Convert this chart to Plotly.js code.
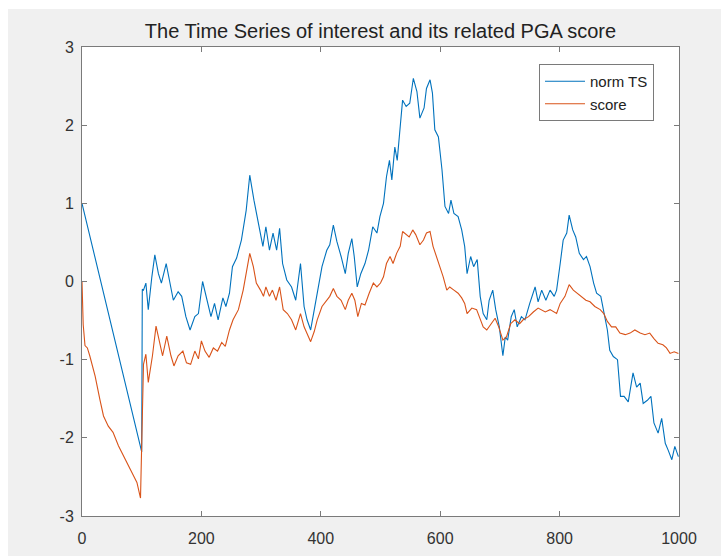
<!DOCTYPE html>
<html>
<head>
<meta charset="utf-8">
<script src="https://cdn.plot.ly/plotly-3.0.1.min.js"></script>
<style>
  html, body { margin: 0; padding: 0; background: #ffffff; }
  #chart { position: absolute; left: 8px; top: 9px; width: 713px; height: 547px; }
</style>
</head>
<body>
<div id="chart"></div>
<script>
// norm TS (time index, value)
const tsX = [0,100,101,103,107,111,117,122,128,133,141,147,153,161,167,174,181,189,195,202,209,216,222,228,236,241,247,252,259,267,275,281,288,295,303,308,314,320,326,331,336,343,351,358,366,372,377,383,389,394,402,410,415,421,427,434,441,446,452,456,461,467,474,480,487,494,499,505,510,515,519,524,528,533,537,543,549,555,561,566,573,577,583,587,591,597,603,608,614,618,623,630,636,641,645,651,656,662,667,672,678,682,688,693,699,705,709,713,719,724,729,736,742,750,759,764,770,777,784,791,795,801,806,812,816,822,827,833,840,845,851,857,862,869,874,880,884,890,897,902,908,915,923,929,935,940,947,953,958,965,971,977,982,988,993,999];
const tsY = [1.0,-2.18,-0.1,-0.11,-0.02,-0.36,0.06,0.34,0.10,-0.02,0.23,-0.02,-0.24,-0.13,-0.19,-0.45,-0.62,-0.45,-0.41,0.0,-0.24,-0.45,-0.28,-0.49,-0.21,-0.32,-0.15,0.19,0.30,0.53,0.91,1.36,1.04,0.74,0.45,0.70,0.40,0.62,0.40,0.68,0.23,0.02,-0.07,-0.24,0.23,-0.32,-0.49,-0.62,-0.36,-0.11,0.19,0.40,0.47,0.72,0.51,0.32,0.10,0.36,0.55,0.32,-0.07,0.10,0.23,0.40,0.70,0.62,0.83,1.0,1.34,1.55,1.30,1.72,1.55,1.98,2.32,2.24,2.28,2.60,2.43,2.09,2.22,2.47,2.58,2.41,1.94,1.85,1.43,0.96,0.87,1.04,0.87,0.83,0.66,0.45,0.10,0.32,0.19,0.28,-0.19,-0.41,-0.49,-0.24,-0.11,-0.36,-0.58,-0.95,-0.71,-0.75,-0.45,-0.36,-0.58,-0.45,-0.49,-0.28,-0.07,-0.26,-0.11,-0.24,-0.11,-0.19,-0.11,0.23,0.53,0.62,0.85,0.66,0.57,0.36,0.28,0.32,0.19,-0.02,-0.15,-0.19,-0.41,-0.62,-0.88,-0.96,-1.0,-1.47,-1.47,-1.54,-1.17,-1.35,-1.30,-1.56,-1.52,-1.47,-1.81,-1.94,-1.75,-2.07,-2.16,-2.28,-2.11,-2.24];

// PGA score (time index, value)
const scoreX = [0,2,5,9,13,22,30,36,44,52,61,72,83,92,98,103,107,111,118,124,130,135,142,149,154,161,169,175,182,189,195,200,206,213,220,227,234,240,247,253,262,270,277,281,287,292,299,304,308,314,319,325,331,337,344,351,358,366,372,377,383,389,394,402,410,415,421,427,434,441,446,452,457,462,468,474,481,488,494,500,505,510,516,521,527,533,537,543,548,554,559,566,572,577,583,588,594,600,605,611,616,623,630,636,641,645,653,661,667,672,678,685,692,698,705,711,718,725,733,739,748,756,764,776,784,795,801,809,816,823,830,837,844,851,859,868,874,880,887,894,901,910,918,926,935,943,951,958,965,973,979,985,992,999];
const scoreY = [0.0,-0.55,-0.82,-0.85,-0.95,-1.21,-1.51,-1.72,-1.85,-1.93,-2.10,-2.27,-2.45,-2.57,-2.77,-1.06,-0.93,-1.29,-0.95,-0.57,-0.78,-0.95,-0.70,-0.95,-1.08,-0.95,-0.89,-1.04,-1.06,-0.89,-0.99,-0.76,-0.89,-0.97,-0.85,-0.89,-0.78,-0.83,-0.62,-0.49,-0.36,-0.11,0.19,0.36,0.19,-0.02,-0.11,-0.19,-0.07,-0.19,-0.11,-0.24,-0.07,-0.36,-0.41,-0.49,-0.62,-0.41,-0.58,-0.66,-0.77,-0.64,-0.49,-0.32,-0.24,-0.19,-0.09,-0.19,-0.24,-0.36,-0.24,-0.15,-0.24,-0.45,-0.28,-0.30,-0.15,-0.02,-0.07,-0.02,0.06,0.23,0.32,0.23,0.36,0.45,0.64,0.60,0.57,0.66,0.60,0.47,0.53,0.62,0.64,0.45,0.32,0.19,0.06,-0.11,-0.07,-0.11,-0.15,-0.21,-0.28,-0.41,-0.34,-0.36,-0.49,-0.58,-0.62,-0.54,-0.47,-0.58,-0.75,-0.71,-0.54,-0.49,-0.54,-0.49,-0.45,-0.39,-0.34,-0.39,-0.36,-0.41,-0.28,-0.19,-0.04,-0.11,-0.15,-0.19,-0.24,-0.26,-0.32,-0.36,-0.41,-0.51,-0.58,-0.58,-0.66,-0.68,-0.66,-0.62,-0.66,-0.68,-0.66,-0.73,-0.79,-0.81,-0.85,-0.92,-0.90,-0.92];

const xTicks = [0,200,400,600,800,1000];
const xTickText = ['0','200','400','600','800','1000'];
const yTicks = [-3,-2,-1,0,1,2,3];
const yTickText = ['-3','-2','-1','0','1','2','3'];

const FONT = '"Liberation Sans", Arial, Helvetica, sans-serif';

const traces = [
  { x: tsX, y: tsY, type: 'scatter', mode: 'lines', name: 'norm TS',
    line: { color: '#0072BD', width: 1.1 } },
  { x: scoreX, y: scoreY, type: 'scatter', mode: 'lines', name: 'score',
    line: { color: '#D95319', width: 1.1 } }
];

const axisCommon = {
  showline: true, linecolor: '#7a7a7a', linewidth: 1,
  mirror: 'allticks', ticks: 'inside', ticklen: 5, tickcolor: '#7a7a7a', tickwidth: 1,
  showgrid: false, zeroline: false,
  tickfont: { family: FONT, size: 16, color: '#333333' }
};

const layout = {
  width: 713, height: 547,
  paper_bgcolor: '#f0f0f0', plot_bgcolor: '#ffffff',
  margin: { l: 74, r: 42, t: 38, b: 40 },
  font: { family: FONT, color: '#333333' },
  title: { text: 'The Time Series of interest and its related PGA score',
    font: { family: FONT, size: 20, color: '#222222' },
    x: (74 + 597 / 2) / 713, xanchor: 'center', xref: 'container',
    y: 1 - 22 / 547, yanchor: 'middle', yref: 'container' },
  xaxis: Object.assign({}, axisCommon, { range: [0, 1000], tickvals: xTicks, ticktext: xTickText, ticklabelstandoff: 8 }),
  yaxis: Object.assign({}, axisCommon, { range: [-3, 3], tickvals: yTicks, ticktext: yTickText, ticklabelstandoff: 4 }),
  showlegend: true,
  legend: { x: 0.7655, y: 0.9638, xanchor: 'left', yanchor: 'top',
    bgcolor: '#ffffff', bordercolor: '#7a7a7a', borderwidth: 1,
    font: { family: FONT, size: 15, color: '#222222' }, itemwidth: 40, tracegroupgap: 0 }
};

Plotly.newPlot('chart', traces, layout, { displayModeBar: false, staticPlot: true });
</script>
</body>
</html>
